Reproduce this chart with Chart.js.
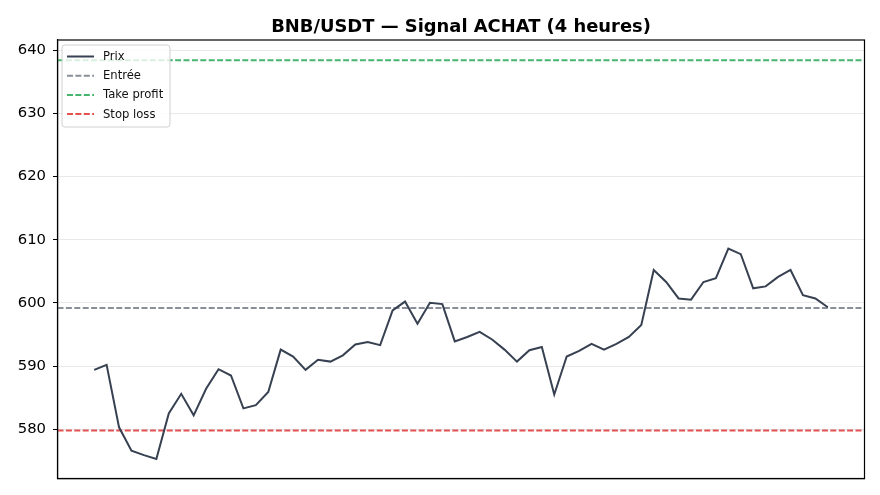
<!DOCTYPE html>
<html lang="fr">
<head>
<meta charset="utf-8">
<title>BNB/USDT — Signal ACHAT</title>
<script src="https://cdn.jsdelivr.net/npm/chart.js@4.4.1/dist/chart.umd.min.js"></script>
<style>
  html, body { margin: 0; padding: 0; background: #fff; overflow: hidden; }
  #wrap { width: 880px; height: 495px; position: relative; }
  canvas { display: block; }
</style>
</head>
<body>
<div id="wrap"><canvas id="chart" width="880" height="495"></canvas></div>
<script>
/* ── Data ─────────────────────────────────────── */
const TITLE = 'BNB/USDT — Signal ACHAT (4 heures)';

// 60 bougies de 4 h (index 0 → 59)
const prices = [
  589.4, 590.2, 580.3, 576.6, 575.9, 575.3, 582.5, 585.6, 582.2, 586.4,
  589.5, 588.5, 583.3, 583.8, 585.9, 592.6, 591.5, 589.4, 591.0, 590.7,
  591.7, 593.4, 593.8, 593.3, 598.8, 600.2, 596.7, 600.0, 599.8, 593.9,
  594.6, 595.4, 594.2, 592.6, 590.7, 592.5, 593.0, 585.5, 591.5, 592.4,
  593.5, 592.6, 593.5, 594.6, 596.5, 605.2, 603.3, 600.7, 600.5, 603.3,
  603.9, 608.6, 607.7, 602.3, 602.6, 604.1, 605.2, 601.2, 600.7, 599.3,
];

const ENTRY       = 599.2;
const TAKE_PROFIT = 638.4;
const STOP_LOSS   = 579.8;

const yTicks = [580, 590, 600, 610, 620, 630, 640];
const Y_MIN = 572.2, Y_MAX = 641.6;

// matplotlib-style 5% margins on the x axis
const X_MIN = -0.05 * (prices.length - 1);
const X_MAX = (prices.length - 1) * 1.05;

/* ── Styles ───────────────────────────────────── */
const FONT = 'DejaVu Sans, Verdana, sans-serif';
const C_PRICE = '#374151';
const C_ENTRY = 'rgba(107,114,128,0.8)';
const C_TP    = 'rgba(22,163,74,0.8)';
const C_SL    = 'rgba(220,38,38,0.8)';
const DASH    = [6, 2.4];

const priceData = prices.map((p, i) => ({ x: i, y: p }));
const hline = v => [{ x: X_MIN, y: v }, { x: X_MAX, y: v }];

/* ── Plugins: title, frame, legend ────────────── */
const framePlugin = {
  id: 'frame',
  afterDraw(chart) {
    const { ctx, chartArea: a } = chart;
    ctx.save();
    ctx.strokeStyle = '#000';
    ctx.lineWidth = 1.2;
    ctx.strokeRect(a.left, a.top, a.right - a.left, a.bottom - a.top);

    // title
    ctx.fillStyle = '#000';
    ctx.font = 'bold 17.9px ' + FONT;
    ctx.textAlign = 'center';
    ctx.textBaseline = 'alphabetic';
    ctx.fillText(TITLE, (a.left + a.right) / 2, 31.5);

    // legend (inside, upper left)
    const items = chart.data.datasets;
    const bx = a.left + 4.5, by = a.top + 5, bw = 108, bh = 82;
    ctx.beginPath();
    ctx.roundRect(bx, by, bw, bh, 3);
    ctx.fillStyle = 'rgba(255,255,255,0.8)';
    ctx.fill();
    ctx.strokeStyle = '#d0d0d0';
    ctx.lineWidth = 1;
    ctx.stroke();

    ctx.font = '11.6px ' + FONT;
    ctx.textAlign = 'left';
    ctx.textBaseline = 'middle';
    items.forEach((ds, i) => {
      const yy = by + 11.5 + i * 19.2;
      ctx.beginPath();
      ctx.setLineDash(ds.borderDash || []);
      ctx.strokeStyle = ds.borderColor;
      ctx.lineWidth = ds.borderWidth;
      ctx.moveTo(bx + 5, yy);
      ctx.lineTo(bx + 32, yy);
      ctx.stroke();
      ctx.setLineDash([]);
      ctx.fillStyle = '#111';
      ctx.fillText(ds.label, bx + 41, yy + 0.5);
    });
    ctx.restore();
  },
};

/* ── Chart ────────────────────────────────────── */
new Chart(document.getElementById('chart'), {
  type: 'line',
  data: {
    datasets: [
      { label: 'Prix',        data: priceData,         borderColor: C_PRICE, borderWidth: 2, pointRadius: 0, tension: 0 },
      { label: 'Entrée',      data: hline(ENTRY),       borderColor: C_ENTRY, borderWidth: 2, borderDash: DASH, pointRadius: 0 },
      { label: 'Take profit', data: hline(TAKE_PROFIT), borderColor: C_TP,    borderWidth: 2, borderDash: DASH, pointRadius: 0 },
      { label: 'Stop loss',   data: hline(STOP_LOSS),   borderColor: C_SL,    borderWidth: 2, borderDash: DASH, pointRadius: 0 },
    ],
  },
  options: {
    responsive: false,
    animation: false,
    devicePixelRatio: 1,
    layout: { padding: { top: 40, left: 0, right: 15.5, bottom: 16.5 } },
    plugins: { legend: { display: false }, title: { display: false }, tooltip: { enabled: false } },
    scales: {
      x: {
        type: 'linear', min: X_MIN, max: X_MAX,
        ticks: { display: false },
        grid: { display: false },
        border: { display: true, color: '#000', width: 1.2 },
        afterFit: s => { s.height = 0; },
      },
      y: {
        min: Y_MIN, max: Y_MAX,
        afterBuildTicks: s => { s.ticks = yTicks.map(v => ({ value: v })); },
        ticks: { color: '#000', font: { family: FONT, size: 14.8 }, padding: 7 },
        grid: { color: '#e9e9e9', lineWidth: 1, tickColor: '#000', tickLength: 4.5 },
        border: { display: true, color: '#000', width: 1.2 },
        afterFit: s => { s.width = 57.5; },
      },
    },
  },
  plugins: [framePlugin],
});
</script>
</body>
</html>
